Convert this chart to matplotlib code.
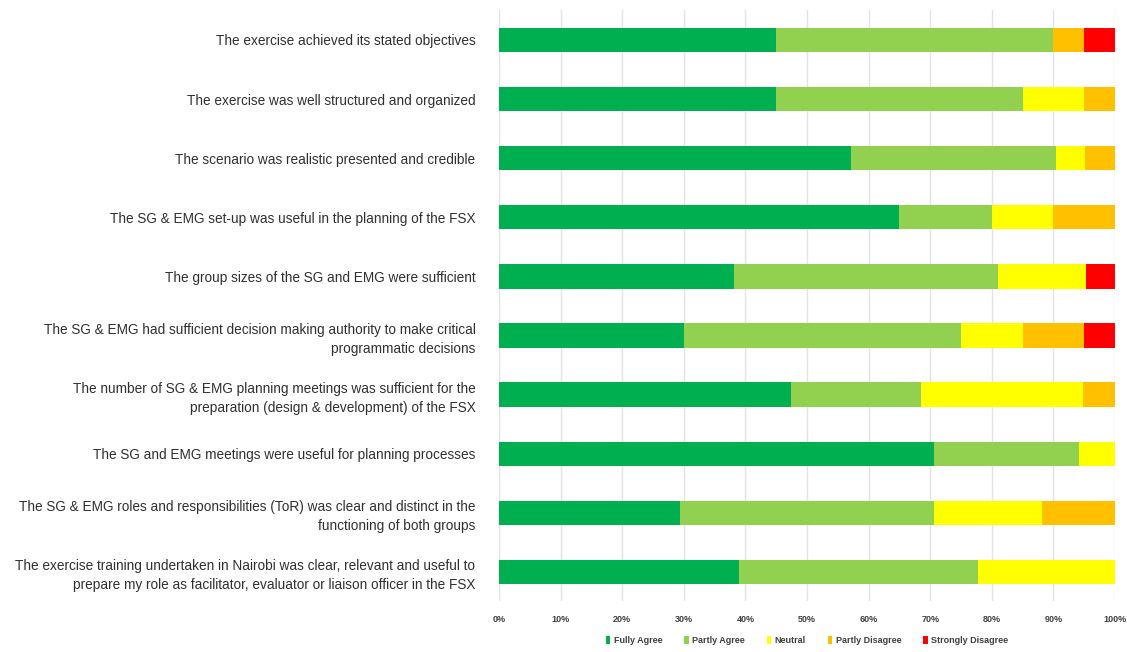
import matplotlib.pyplot as plt
import numpy as np

# Survey statements (top to bottom) and response shares in percent
statements = [
    'The exercise achieved its stated objectives',
    'The exercise was well structured and organized',
    'The scenario was realistic presented and credible',
    'The SG & EMG set-up was useful in the planning of the FSX',
    'The group sizes of the SG and EMG were sufficient',
    'The SG & EMG had sufficient decision making authority to make critical\nprogrammatic decisions',
    'The number of SG & EMG planning meetings was sufficient for the\npreparation (design & development) of the FSX',
    'The SG and EMG meetings were useful for planning processes',
    'The SG & EMG roles and responsibilities (ToR) was clear and distinct in the\nfunctioning of both groups',
    'The exercise training undertaken in Nairobi was clear, relevant and useful to\nprepare my role as facilitator, evaluator or liaison officer in the FSX',
]
fully_agree = [45.0, 45.0, 57.1, 65.0, 38.1, 30.0, 47.4, 70.6, 29.4, 38.9]
partly_agree = [45.0, 40.0, 33.3, 15.0, 42.9, 45.0, 21.1, 23.5, 41.2, 38.9]
neutral = [0.0, 10.0, 4.8, 10.0, 14.3, 10.0, 26.3, 5.9, 17.6, 22.2]
partly_disagree = [5.0, 5.0, 4.8, 10.0, 0.0, 10.0, 5.3, 0.0, 11.8, 0.0]
strongly_disagree = [5.0, 0.0, 0.0, 0.0, 4.8, 5.0, 0.0, 0.0, 0.0, 0.0]

series = [fully_agree, partly_agree, neutral, partly_disagree, strongly_disagree]
names = ['Fully Agree', 'Partly Agree', 'Neutral', 'Partly Disagree', 'Strongly Disagree']
colors = ['#00B050', '#92D050', '#FFFF00', '#FFC000', '#FF0000']
font = ['Liberation Sans Narrow', 'Liberation Sans']

fig = plt.figure(figsize=(11.27, 6.52), dpi=100)
ax = fig.add_axes([0.4428, 0.0775, 0.5466, 0.9065])

y = np.arange(len(statements))
left = np.zeros(len(statements))
for vals, name, col in zip(series, names, colors):
    vals = np.array(vals)
    ax.barh(y, vals, left=left, height=0.41, color=col, label=name, zorder=3)
    left = left + vals

ax.set_xlim(0, 100)
ax.set_ylim(len(statements) - 0.5, -0.5)
ax.set_xticks(np.arange(0, 101, 10))
ax.set_xticklabels([f'{v}%' for v in range(0, 101, 10)],
                   fontsize=6.5, fontweight='bold', color='#404040', family=font)
ax.set_yticks(y)
ax.set_yticklabels(statements, fontsize=9.8, color='#303030', family=font,
                   ha='right', linespacing=1.45)
ax.tick_params(axis='y', length=0, pad=17)
ax.tick_params(axis='x', length=0, pad=10)
ax.grid(axis='x', color='#E3E3E3', linewidth=1, zorder=0)
for s in ax.spines.values():
    s.set_visible(False)

ax.legend(loc='upper center', bbox_to_anchor=(0.5, -0.045), ncol=5, frameon=False,
          handlelength=0.5, handleheight=0.9, handletextpad=0.4, columnspacing=2.4,
          prop={'family': font, 'size': 6.5, 'weight': 'bold'}, labelcolor='#404040')

fig.savefig('out.png', dpi=100)
